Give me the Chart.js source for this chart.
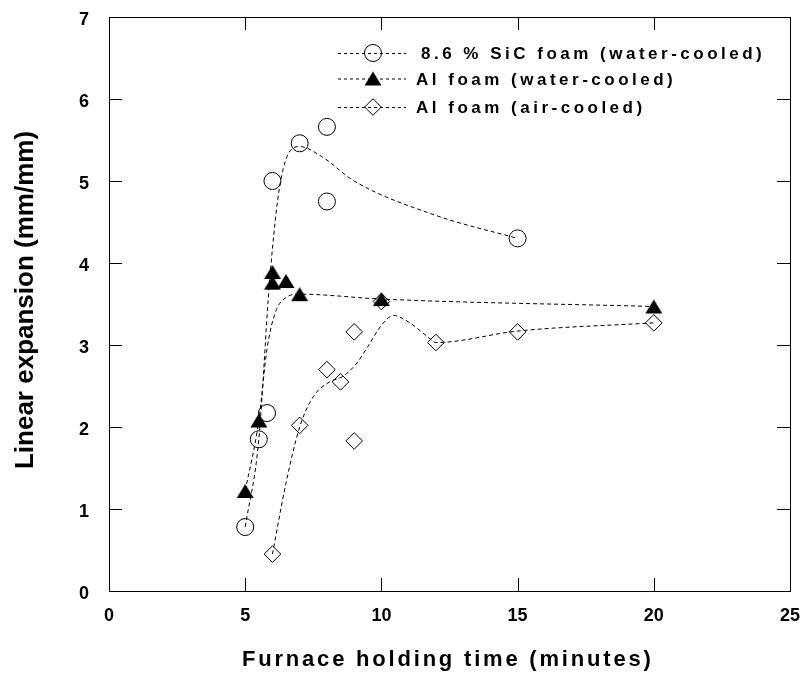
<!DOCTYPE html>
<html>
  <head>
    <style>
      body {
        margin: 0;
        background: #fff;
      }
      #plot {
        display: block;
      }
    </style>
  </head>
  <body>
    <canvas id="plot" width="803" height="674"></canvas>

    <script src="https://cdn.jsdelivr.net/npm/chart.js"></script>
    <script>
      // measured points
      const sicX = [5, 5.5, 5.8, 6, 7, 8, 8, 15];
      const sicY = [0.78, 1.85, 2.17, 5.0, 5.46, 4.75, 5.66, 4.3];
      const alWaterX = [5, 5.5, 6, 6, 6.5, 7, 10, 20];
      const alWaterY = [1.22, 2.08, 3.89, 3.76, 3.78, 3.62, 3.56, 3.47];
      const alAirX = [6, 7, 8, 8.5, 9, 9, 10, 12, 15, 20];
      const alAirY = [0.45, 2.02, 2.7, 2.55, 3.16, 1.83, 3.53, 3.03, 3.16, 3.27];

      // dashed fit curves, knots
      const sicFitX = [5, 5.5, 5.9, 6.3, 7, 7.8, 9, 12, 15];
      const sicFitY = [0.78, 1.85, 3.8, 5.0, 5.42, 5.3, 5.0, 4.58, 4.3];
      const alWaterFitX = [5, 5.5, 5.8, 6.1, 6.5, 7, 10, 20];
      const alWaterFitY = [1.22, 2.08, 2.95, 3.39, 3.58, 3.62, 3.56, 3.47];
      const alAirFitX = [6, 6.5, 7, 7.5, 8.1, 8.6, 9.1, 9.5, 10, 10.45, 11, 11.7, 12, 15, 20];
      const alAirFitY = [0.45, 1.32, 2.0, 2.37, 2.55, 2.62, 2.78, 2.98, 3.24, 3.36, 3.28, 3.1, 3.03, 3.17, 3.27];

      const xTicks = [0, 5, 10, 15, 20, 25];
      const yTicks = [0, 1, 2, 3, 4, 5, 6, 7];
      const seriesNames = ['8.6 % SiC foam (water-cooled)', 'Al foam (water-cooled)', 'Al foam (air-cooled)'];
      const xTitle = 'Furnace holding time (minutes)';
      const yTitle = 'Linear expansion (mm/mm)';

      const FONT = '"Liberation Sans", Arial, sans-serif';
      const zip = (xs, ys) => xs.map((x, i) => ({ x: x, y: ys[i] }));

      // filled triangle, centred on its bounding box like the original
      const tri = document.createElement('canvas');
      tri.width = 18;
      tri.height = 16;
      (function () {
        const c = tri.getContext('2d');
        c.fillStyle = '#000';
        c.beginPath();
        c.moveTo(9, 1);
        c.lineTo(17.5, 15);
        c.lineTo(0.5, 15);
        c.closePath();
        c.fill();
      })();

      function markers(data, style, radius) {
        return {
          data: data,
          pointStyle: style,
          pointRadius: radius,
          borderColor: '#000',
          backgroundColor: 'rgba(0,0,0,0)',
          pointBorderWidth: 1,
          showLine: false,
          order: 1,
        };
      }

      function fit(data) {
        return {
          data: data,
          showLine: true,
          pointRadius: 0,
          borderColor: '#000',
          borderWidth: 1,
          borderDash: [4, 3],
          cubicInterpolationMode: 'monotone',
          order: 5,
        };
      }

      // keep the plot box where it is, whatever the tick labels want
      function fixBox(size) {
        return (s) => {
          if (s.isHorizontal()) s.height = size;
          else s.width = size;
          s.paddingLeft = s.paddingRight = s.paddingTop = s.paddingBottom = 0;
        };
      }

      const decorations = {
        id: 'decorations',
        afterDraw(chart) {
          const { ctx, chartArea: a, scales } = chart;
          const tick = 13;
          ctx.save();
          ctx.strokeStyle = '#000';
          ctx.lineWidth = 1;
          ctx.setLineDash([]);
          ctx.strokeRect(a.left + 0.5, a.top + 0.5, a.right - a.left, a.bottom - a.top);

          ctx.beginPath();
          xTicks.forEach((v) => {
            const px = Math.round(scales.x.getPixelForValue(v)) + 0.5;
            ctx.moveTo(px, a.bottom);
            ctx.lineTo(px, a.bottom - tick);
            ctx.moveTo(px, a.top);
            ctx.lineTo(px, a.top + tick);
          });
          yTicks.forEach((v) => {
            const py = Math.round(scales.y.getPixelForValue(v)) + 0.5;
            ctx.moveTo(a.left, py);
            ctx.lineTo(a.left + tick, py);
            ctx.moveTo(a.right, py);
            ctx.lineTo(a.right - tick, py);
          });
          ctx.stroke();

          // axis titles
          ctx.fillStyle = '#000';
          ctx.font = 'bold 22px ' + FONT;
          ctx.letterSpacing = '2.8px';
          ctx.textAlign = 'left';
          ctx.textBaseline = 'alphabetic';
          ctx.fillText(xTitle, 242, 666);

          ctx.save();
          ctx.letterSpacing = '0px';
          ctx.font = 'bold 26px ' + FONT;
          ctx.translate(33, 300);
          ctx.rotate(-Math.PI / 2);
          ctx.textAlign = 'center';
          ctx.fillText(yTitle, 0, 0);
          ctx.restore();

          // legend
          const rows = [53, 78.5, 107];
          const textX = [421, 416, 416];
          ctx.font = 'bold 17px ' + FONT;
          ctx.letterSpacing = '3.5px';
          rows.forEach((ry, i) => {
            ctx.beginPath();
            ctx.setLineDash([3, 3]);
            ctx.moveTo(338, ry + 0.5);
            ctx.lineTo(406, ry + 0.5);
            ctx.stroke();
            ctx.setLineDash([]);
            if (i === 0) {
              ctx.beginPath();
              ctx.arc(373, ry, 8.5, 0, Math.PI * 2);
              ctx.stroke();
            } else if (i === 1) {
              ctx.drawImage(tri, 373 - 9, ry - 8);
            } else {
              ctx.beginPath();
              ctx.moveTo(373 - 8.3, ry);
              ctx.lineTo(373, ry - 8.3);
              ctx.lineTo(373 + 8.3, ry);
              ctx.lineTo(373, ry + 8.3);
              ctx.closePath();
              ctx.stroke();
            }
            ctx.fillText(seriesNames[i], textX[i], ry + 6);
          });
          ctx.restore();
        },
      };

      const chart = new Chart(document.getElementById('plot'), {
        type: 'scatter',
        data: {
          datasets: [
            markers(zip(sicX, sicY), 'circle', 8.5),
            markers(zip(alWaterX, alWaterY), tri, 9),
            markers(zip(alAirX, alAirY), 'rectRot', 8.3),
            fit(zip(sicFitX, sicFitY)),
            fit(zip(alWaterFitX, alWaterFitY)),
            fit(zip(alAirFitX, alAirFitY)),
          ],
        },
        options: {
          responsive: false,
          animation: false,
          events: [],
          layout: { padding: { top: 17, right: 13, left: 0, bottom: 0 } },
          plugins: {
            legend: { display: false },
            tooltip: { enabled: false },
          },
          scales: {
            x: {
              type: 'linear',
              min: 0,
              max: 25,
              grid: { display: false, drawTicks: false },
              border: { display: false },
              afterBuildTicks: (s) => {
                s.ticks = xTicks.map((v) => ({ value: v }));
              },
              afterFit: fixBox(83),
              ticks: {
                color: '#000',
                padding: 14,
                maxRotation: 0,
                font: { family: FONT, size: 18, weight: 'bold' },
              },
            },
            y: {
              type: 'linear',
              min: 0,
              max: 7,
              grid: { display: false, drawTicks: false },
              border: { display: false },
              afterBuildTicks: (s) => {
                s.ticks = yTicks.map((v) => ({ value: v }));
              },
              afterFit: fixBox(109),
              ticks: {
                color: '#000',
                padding: 20,
                labelOffset: 3,
                font: { family: FONT, size: 18, weight: 'bold' },
              },
            },
          },
        },
        plugins: [decorations],
      });
    </script>
  </body>
</html>
